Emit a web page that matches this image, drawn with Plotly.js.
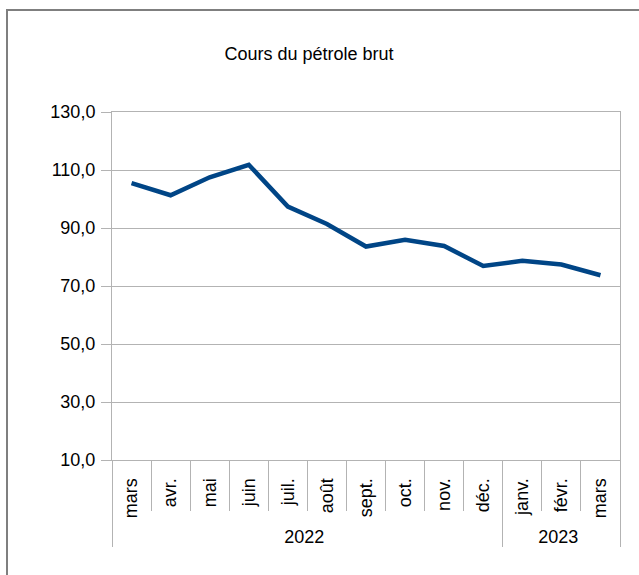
<!DOCTYPE html>
<html>
<head>
<meta charset="utf-8">
<script src="https://cdn.plot.ly/plotly-3.0.1.min.js"></script>
<style>
  html, body { margin: 0; padding: 0; background: #ffffff; }
  #wrap { position: relative; width: 639px; height: 575px; overflow: hidden; }
  #chart { position: absolute; left: 0; top: 0; width: 639px; height: 575px; }
  #frame { position: absolute; left: 6px; top: 9px; width: 700px; height: 700px;
           border-left: 2px solid #7f7f7f; border-top: 2px solid #7f7f7f; pointer-events: none; }
</style>
</head>
<body>
<div id="wrap">
  <div id="chart"></div>
  <div id="frame"></div>
</div>
<script>
const years  = ["2022","2022","2022","2022","2022","2022","2022","2022","2022","2022","2023","2023","2023"];
// the second "mars" carries an invisible zero-width space so Plotly keeps it as a distinct category
const months = ["mars","avr.","mai","juin","juil.","août","sept.","oct.","nov.","déc.","janv.","févr.","mars\u200b"];
const prices = [105.5, 101.3, 107.5, 111.8, 97.4, 91.4, 83.6, 85.9, 83.8, 76.9, 78.7, 77.4, 73.7];
const yTickRange = [10, 130];
const titleText = "Cours du pétrole brut";

const grey = "#b3b3b3";
const font = "Liberation Sans, Arial, sans-serif";

const trace = {
  type: "scatter",
  mode: "lines",
  x: [years, months],
  y: prices,
  line: { color: "#004586", width: 4.5 },
  hoverinfo: "skip"
};

const layout = {
  width: 639,
  height: 575,
  margin: { l: 111.5, r: 18.5, t: 112, b: 115, pad: 0 },
  paper_bgcolor: "rgba(0,0,0,0)",
  plot_bgcolor: "#ffffff",
  separators: ", ",
  showlegend: false,
  font: { family: font, size: 18, color: "#000000" },
  title: {
    text: titleText,
    font: { family: font, size: 18, color: "#000000" },
    xref: "container", yref: "container",
    x: 309 / 639, xanchor: "center",
    y: 1 - 53.7 / 575, yanchor: "middle"
  },
  xaxis: {
    type: "multicategory",
    range: [-0.5, months.length - 0.5],
    showline: true, linecolor: grey, linewidth: 1, mirror: true,
    ticks: "outside", tickson: "boundaries", ticklen: 50, tickcolor: grey, tickwidth: 1,
    tickangle: -90,
    ticklabelstandoff: 10,
    showdividers: true, dividercolor: grey, dividerwidth: 1,
    showgrid: false, zeroline: false,
    tickfont: { family: font, size: 18, color: "#000000" }
  },
  yaxis: {
    range: yTickRange,
    tick0: 10, dtick: 20,
    tickformat: ".1f",
    showline: true, linecolor: grey, linewidth: 1, mirror: true,
    ticks: "outside", ticklen: 10, tickcolor: grey, tickwidth: 1,
    ticklabelstandoff: 2,
    showgrid: true, gridcolor: grey, gridwidth: 1,
    zeroline: false,
    tickfont: { family: font, size: 18, color: "#000000" }
  }
};

Plotly.newPlot("chart", [trace], layout, { displayModeBar: false, staticPlot: true });
</script>
</body>
</html>
